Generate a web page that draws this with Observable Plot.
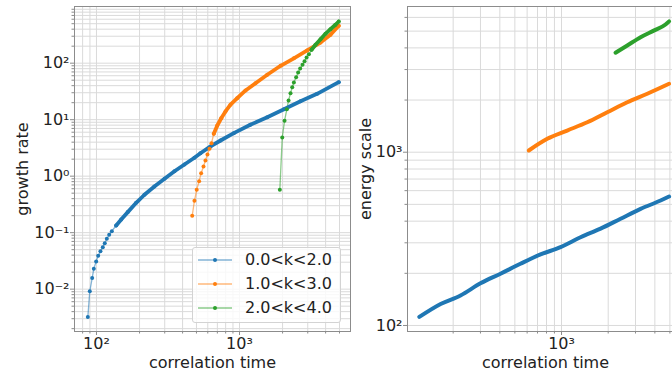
<!DOCTYPE html>
<html><head><meta charset="utf-8">
<script src="https://cdn.jsdelivr.net/npm/d3@7"></script>
<script src="https://cdn.jsdelivr.net/npm/@observablehq/plot@0.6"></script>
<style>
html,body{margin:0;padding:0;background:#fff;overflow:hidden;}
#wrap{position:relative;width:672px;height:376px;overflow:hidden;font-family:"DejaVu Sans",sans-serif;background:#fff;}
#left{position:absolute;left:0;top:0;width:360px;height:376px;}
#right{position:absolute;left:340px;top:0;width:348px;height:376px;}
#legend{position:absolute;left:192px;top:247px;width:149px;height:76px;box-sizing:border-box;background:rgba(255,255,255,0.8);border:1px solid #d3d3d3;border-radius:3px;}
.row{position:absolute;left:0;height:16px;width:147px;}
.row svg{position:absolute;left:4px;top:0;}
.row span{position:absolute;left:52px;top:0;font-size:16px;line-height:16px;color:#222;white-space:nowrap;}
</style></head>
<body>
<div id="wrap"><div id="left"></div><div id="right"></div><div id="legend"></div></div>
<script>
// ---------------- data ----------------
const seriesNames = ["0.0<k<2.0", "1.0<k<3.0", "2.0<k<4.0"];

// left panel: growth rate vs correlation time
const growthX0 = [87, 89.8, 93.3, 95.8, 99.5, 102.8, 106.6, 110.7, 114.3, 118.1, 122.7, 128, 137.3, 148.9, 165.5, 189.5, 216.5, 254, 299, 351, 412, 484, 533, 627, 737, 912, 1190, 1563, 2044, 2670, 3487, 4941];
const growthY0 = [0.0032, 0.0092, 0.0157, 0.023, 0.031, 0.039, 0.047, 0.055, 0.065, 0.078, 0.092, 0.106, 0.134, 0.171, 0.231, 0.338, 0.469, 0.657, 0.90, 1.22, 1.61, 2.12, 2.55, 3.36, 4.28, 5.77, 8.13, 11.07, 15.3, 21.2, 28.7, 46.1];
const growthX1 = [467, 484, 502, 522, 539, 560, 578, 597, 617, 637, 661, 698, 745, 798, 865, 964, 1102, 1294, 1563, 1937, 2399, 2972, 3684, 4325, 4941];
const growthY1 = [0.199, 0.367, 0.574, 0.816, 1.13, 1.48, 1.90, 2.42, 3.05, 3.84, 5.63, 7.80, 10.6, 14.0, 18.4, 24.0, 32.9, 44.3, 62.3, 89.9, 122, 168, 232, 318, 459];
const growthX2 = [1914, 1990, 2065, 2143, 2203, 2273, 2337, 2399, 2489, 2570, 2655, 2758, 2849, 2943, 3056, 3190, 3400, 3684, 3991, 4325, 4686, 4941];
const growthY2 = [0.574, 4.84, 9.57, 15.3, 21.9, 29.5, 37.6, 45.5, 56.5, 68.4, 80.5, 93.7, 108, 126, 144, 173, 212, 266, 331, 400, 479, 547];

// right panel: energy scale vs correlation time
const energyX0 = [121, 166, 223, 300, 404, 543, 732, 985, 1327, 1787, 2405, 3236, 4355, 4941];
const energyY0 = [112, 133, 149, 175, 199, 227, 257, 283, 323, 362, 413, 471, 526, 555];
const energyX1 = [615, 809, 1088, 1466, 1972, 2655, 3573, 4941];
const energyY1 = [1023, 1195, 1334, 1489, 1701, 1943, 2175, 2483];
const energyX2 = [2230, 2655, 3236, 3936, 4686, 4941];
const energyY2 = [3750, 4130, 4613, 5035, 5455, 5690];

// ticks
const leftXMajor = [100, 1000];
const leftXMajorLabels = ["10²", "10³"];
const leftXMinor = [80, 90, 200, 300, 400, 500, 600, 700, 800, 900, 2000, 3000, 4000, 5000];
const leftYMajor = [0.01, 0.1, 1, 10, 100];
const leftYMajorLabels = ["10⁻²", "10⁻¹", "10⁰", "10¹", "10²"];
const leftYMinor = [0.002,0.003,0.004,0.005,0.006,0.007,0.008,0.009,
  0.02,0.03,0.04,0.05,0.06,0.07,0.08,0.09,
  0.2,0.3,0.4,0.5,0.6,0.7,0.8,0.9,
  2,3,4,5,6,7,8,9,
  20,30,40,50,60,70,80,90,
  200,300,400,500,600,700,800,900];
const rightXMajor = [1000];
const rightXMajorLabels = ["10³"];
const rightXMinor = [200, 300, 400, 500, 600, 700, 800, 900, 2000, 3000, 4000, 5000, 6000];
const rightYMajor = [100, 1000];
const rightYMajorLabels = ["10²", "10³"];
const rightYMinor = [200, 300, 400, 500, 600, 700, 800, 900, 2000, 3000, 4000, 5000, 6000];

const xLabel = "correlation time";
const leftYLabel = "growth rate";
const rightYLabel = "energy scale";

// ---------------- style ----------------
const colors = ["#1f77b4", "#ff7f0e", "#2ca02c"];
const denseFrom = [130, 640, 3100];
const gridColor = "#dadada";
const frameColor = "#8c8c8c";
const FRAME_W = 276;

const zip = (xs, ys) => xs.map((x, i) => ({x, y: ys[i]}));
const growth = [zip(growthX0, growthY0), zip(growthX1, growthY1), zip(growthX2, growthY2)];
const energy = [zip(energyX0, energyY0), zip(energyX1, energyY1), zip(energyX2, energyY2)];

function panel(o) {
  const lab = (vals, labels) => d => labels[vals.indexOf(d)];
  return Plot.plot({
    width: o.width, height: 376,
    marginTop: 6, marginBottom: 45, marginLeft: o.marginLeft, marginRight: o.width - o.marginLeft - FRAME_W,
    style: {fontFamily: "DejaVu Sans", fontSize: "16px", color: "#222", background: "transparent", maxWidth: "none", overflow: "visible"},
    x: {type: "log", domain: o.xDomain},
    y: {type: "log", domain: o.yDomain},
    marks: [
      Plot.ruleX(o.xMinor.concat(o.xMajor), {stroke: gridColor, strokeWidth: 1}),
      Plot.ruleY(o.yMinor.concat(o.yMajor), {stroke: gridColor, strokeWidth: 1}),
      ...o.marks,
      Plot.frame({stroke: frameColor, strokeWidth: 1}),
      Plot.axisX(o.xMajor, {tickSize: 4, tickPadding: 2.5, tickFormat: lab(o.xMajor, o.xMajorLabels), label: null, stroke: frameColor}),
      Plot.axisX(o.xMinor, {tickSize: 2.5, tickFormat: () => "", label: null, stroke: frameColor}),
      Plot.axisY(o.yMajor, {tickSize: 4, tickPadding: 1, tickFormat: lab(o.yMajor, o.yMajorLabels), label: null, stroke: frameColor}),
      Plot.axisY(o.yMinor, {tickSize: 2.5, tickFormat: () => "", label: null, stroke: frameColor}),
      Plot.text([xLabel], {frameAnchor: "bottom", dy: 36, lineAnchor: "bottom", textAnchor: "middle", text: d => d, fill: "#222"}),
      Plot.text([o.yLabel], {frameAnchor: "left", dx: o.yLabelDx, rotate: -90, textAnchor: "middle", lineAnchor: "middle", text: d => d, fill: "#222"})
    ]
  });
}

const leftMarks = [];
growth.forEach((s, i) => {
  leftMarks.push(Plot.line(s, {x: "x", y: "y", stroke: colors[i], strokeWidth: 1.3, strokeOpacity: 0.55}));
});
growth.forEach((s, i) => {
  leftMarks.push(Plot.line(s.filter(d => d.x >= denseFrom[i]), {x: "x", y: "y", stroke: colors[i], strokeWidth: 3.8, strokeLinecap: "round"}));
  leftMarks.push(Plot.dot(s, {x: "x", y: "y", r: 2, fill: colors[i]}));
});

document.getElementById("left").append(panel({
  width: 360, marginLeft: 74,
  xDomain: [70.2, 5970], yDomain: [0.00178, 1008],
  xMajor: leftXMajor, xMajorLabels: leftXMajorLabels, xMinor: leftXMinor,
  yMajor: leftYMajor, yMajorLabels: leftYMajorLabels, yMinor: leftYMinor,
  yLabel: leftYLabel, yLabelDx: -52, marks: leftMarks
}));

const rightMarks = energy.map((s, i) => Plot.line(s, {x: "x", y: "y", stroke: colors[i], strokeWidth: 4, strokeLinecap: "round", curve: "monotone-x"}));

document.getElementById("right").append(panel({
  width: 348, marginLeft: 67,
  xDomain: [101.5, 6120], yDomain: [92.3, 6935],
  xMajor: rightXMajor, xMajorLabels: rightXMajorLabels, xMinor: rightXMinor,
  yMajor: rightYMajor, yMajorLabels: rightYMajorLabels, yMinor: rightYMinor,
  yLabel: rightYLabel, yLabelDx: -42, marks: rightMarks
}));

// legend
const legend = document.getElementById("legend");
const rowCenters = [12, 36, 60];
seriesNames.forEach((name, i) => {
  const row = document.createElement("div");
  row.className = "row";
  row.style.top = (rowCenters[i] - 8) + "px";
  const svg = d3.create("svg").attr("width", 36).attr("height", 16);
  svg.append("line").attr("x1", 1).attr("x2", 35).attr("y1", 8).attr("y2", 8)
    .attr("stroke", colors[i]).attr("stroke-width", 1.3).attr("stroke-opacity", 0.55);
  svg.append("circle").attr("cx", 18).attr("cy", 8).attr("r", 2).attr("fill", colors[i]);
  row.append(svg.node());
  const span = document.createElement("span");
  span.textContent = name;
  row.append(span);
  legend.append(row);
});
</script>
</body></html>
